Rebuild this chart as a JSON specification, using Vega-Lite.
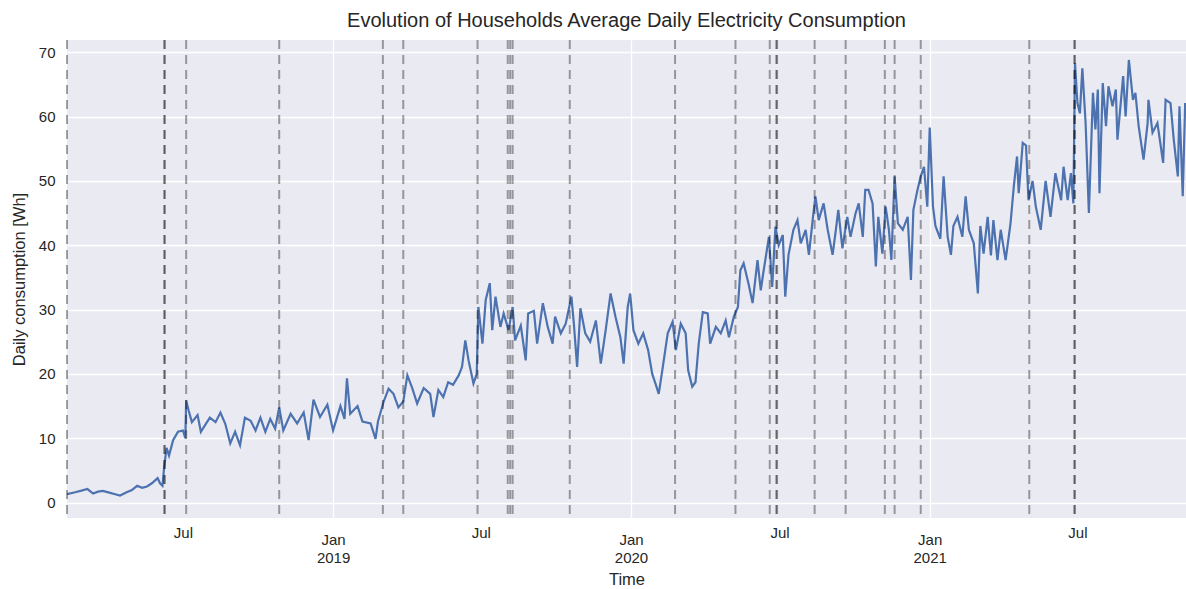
{
  "$schema": "https://vega.github.io/schema/vega-lite/v6.json",
  "width": 1119,
  "height": 478,
  "autosize": {"type": "none"},
  "padding": {"left": 67, "top": 40, "right": 0, "bottom": 71},
  "background": "white",
  "config": {
    "view": {"fill": "#EAEAF2", "stroke": null},
    "font": "Liberation Sans",
    "axis": {
      "domain": false,
      "ticks": false,
      "labelFont": "Liberation Sans",
      "labelFontSize": 15,
      "labelColor": "#262626",
      "titleFont": "Liberation Sans",
      "titleFontSize": 16.5,
      "titleFontWeight": "normal",
      "titleColor": "#262626",
      "gridColor": "white",
      "gridWidth": 1.3,
      "gridOpacity": 1
    }
  },
  "title": {
    "text": "Evolution of Households Average Daily Electricity Consumption",
    "font": "Liberation Sans",
    "fontSize": 20,
    "fontWeight": "normal",
    "color": "#262626",
    "anchor": "middle",
    "offset": 8
  },
  "datasets": {
    "consumption": [
      {"date": "2018-02-09", "wh": 1.3}, {"date": "2018-02-19", "wh": 1.6}, {"date": "2018-02-28", "wh": 1.9},
      {"date": "2018-03-06", "wh": 2.1}, {"date": "2018-03-13", "wh": 1.4}, {"date": "2018-03-19", "wh": 1.7},
      {"date": "2018-03-25", "wh": 1.8}, {"date": "2018-04-03", "wh": 1.5}, {"date": "2018-04-09", "wh": 1.3},
      {"date": "2018-04-15", "wh": 1.1}, {"date": "2018-04-23", "wh": 1.6}, {"date": "2018-04-29", "wh": 1.9},
      {"date": "2018-05-06", "wh": 2.6}, {"date": "2018-05-12", "wh": 2.3}, {"date": "2018-05-18", "wh": 2.5},
      {"date": "2018-05-24", "wh": 3.0}, {"date": "2018-05-31", "wh": 3.8}, {"date": "2018-06-03", "wh": 3.0},
      {"date": "2018-06-06", "wh": 2.6}, {"date": "2018-06-08", "wh": 5.5}, {"date": "2018-06-11", "wh": 8.5},
      {"date": "2018-06-14", "wh": 7.3}, {"date": "2018-06-19", "wh": 9.7}, {"date": "2018-06-25", "wh": 11.0},
      {"date": "2018-07-01", "wh": 11.2}, {"date": "2018-07-04", "wh": 10.0}, {"date": "2018-07-05", "wh": 15.9},
      {"date": "2018-07-08", "wh": 14.3}, {"date": "2018-07-12", "wh": 12.5}, {"date": "2018-07-19", "wh": 13.6},
      {"date": "2018-07-23", "wh": 11.0}, {"date": "2018-07-28", "wh": 12.0}, {"date": "2018-08-03", "wh": 13.2},
      {"date": "2018-08-10", "wh": 12.5}, {"date": "2018-08-16", "wh": 14.0}, {"date": "2018-08-22", "wh": 12.2},
      {"date": "2018-08-28", "wh": 9.2}, {"date": "2018-09-03", "wh": 11.0}, {"date": "2018-09-09", "wh": 8.9},
      {"date": "2018-09-15", "wh": 13.2}, {"date": "2018-09-22", "wh": 12.7}, {"date": "2018-09-28", "wh": 11.2},
      {"date": "2018-10-04", "wh": 13.2}, {"date": "2018-10-10", "wh": 11.0}, {"date": "2018-10-16", "wh": 13.0},
      {"date": "2018-10-22", "wh": 11.5}, {"date": "2018-10-27", "wh": 14.8}, {"date": "2018-11-01", "wh": 11.2},
      {"date": "2018-11-10", "wh": 13.8}, {"date": "2018-11-18", "wh": 12.3}, {"date": "2018-11-26", "wh": 14.0},
      {"date": "2018-12-02", "wh": 9.7}, {"date": "2018-12-08", "wh": 16.0}, {"date": "2018-12-16", "wh": 13.3},
      {"date": "2018-12-25", "wh": 15.2}, {"date": "2019-01-01", "wh": 11.2}, {"date": "2019-01-10", "wh": 15.0},
      {"date": "2019-01-15", "wh": 13.0}, {"date": "2019-01-18", "wh": 19.3}, {"date": "2019-01-22", "wh": 13.8},
      {"date": "2019-01-31", "wh": 15.0}, {"date": "2019-02-06", "wh": 12.6}, {"date": "2019-02-16", "wh": 12.3},
      {"date": "2019-02-22", "wh": 9.9}, {"date": "2019-02-25", "wh": 12.6}, {"date": "2019-03-04", "wh": 15.7},
      {"date": "2019-03-10", "wh": 17.7}, {"date": "2019-03-16", "wh": 16.9}, {"date": "2019-03-22", "wh": 14.8},
      {"date": "2019-03-28", "wh": 15.7}, {"date": "2019-04-02", "wh": 19.8}, {"date": "2019-04-08", "wh": 17.8},
      {"date": "2019-04-14", "wh": 15.4}, {"date": "2019-04-22", "wh": 17.8}, {"date": "2019-04-30", "wh": 16.9},
      {"date": "2019-05-04", "wh": 13.3}, {"date": "2019-05-10", "wh": 17.5}, {"date": "2019-05-16", "wh": 16.4},
      {"date": "2019-05-22", "wh": 18.7}, {"date": "2019-05-28", "wh": 18.3}, {"date": "2019-06-04", "wh": 19.8},
      {"date": "2019-06-08", "wh": 21.1}, {"date": "2019-06-12", "wh": 25.2}, {"date": "2019-06-16", "wh": 22.1},
      {"date": "2019-06-22", "wh": 18.5}, {"date": "2019-06-26", "wh": 20.0}, {"date": "2019-06-28", "wh": 30.4},
      {"date": "2019-07-03", "wh": 24.7}, {"date": "2019-07-07", "wh": 31.5}, {"date": "2019-07-12", "wh": 34.1},
      {"date": "2019-07-15", "wh": 26.8}, {"date": "2019-07-19", "wh": 32.0}, {"date": "2019-07-25", "wh": 27.3},
      {"date": "2019-07-29", "wh": 29.4}, {"date": "2019-08-04", "wh": 26.8}, {"date": "2019-08-09", "wh": 30.4},
      {"date": "2019-08-12", "wh": 25.2}, {"date": "2019-08-19", "wh": 27.5}, {"date": "2019-08-25", "wh": 22.1},
      {"date": "2019-08-28", "wh": 29.4}, {"date": "2019-09-04", "wh": 29.8}, {"date": "2019-09-08", "wh": 24.7},
      {"date": "2019-09-15", "wh": 31.0}, {"date": "2019-09-21", "wh": 27.3}, {"date": "2019-09-27", "wh": 24.7},
      {"date": "2019-09-30", "wh": 28.9}, {"date": "2019-10-07", "wh": 26.3}, {"date": "2019-10-13", "wh": 27.8},
      {"date": "2019-10-20", "wh": 32.0}, {"date": "2019-10-23", "wh": 27.8}, {"date": "2019-10-27", "wh": 21.1},
      {"date": "2019-10-31", "wh": 30.2}, {"date": "2019-11-06", "wh": 26.3}, {"date": "2019-11-12", "wh": 25.0},
      {"date": "2019-11-19", "wh": 28.3}, {"date": "2019-11-25", "wh": 21.6}, {"date": "2019-12-01", "wh": 26.8},
      {"date": "2019-12-07", "wh": 32.5}, {"date": "2019-12-13", "wh": 28.9}, {"date": "2019-12-19", "wh": 25.7},
      {"date": "2019-12-23", "wh": 21.6}, {"date": "2019-12-28", "wh": 30.4}, {"date": "2019-12-31", "wh": 32.5},
      {"date": "2020-01-04", "wh": 26.8}, {"date": "2020-01-10", "wh": 24.7}, {"date": "2020-01-16", "wh": 26.3},
      {"date": "2020-01-22", "wh": 23.7}, {"date": "2020-01-27", "wh": 20.0}, {"date": "2020-01-31", "wh": 18.5},
      {"date": "2020-02-04", "wh": 16.9}, {"date": "2020-02-09", "wh": 21.1}, {"date": "2020-02-15", "wh": 26.3},
      {"date": "2020-02-21", "wh": 28.1}, {"date": "2020-02-25", "wh": 23.7}, {"date": "2020-03-02", "wh": 27.8},
      {"date": "2020-03-08", "wh": 26.3}, {"date": "2020-03-11", "wh": 20.6}, {"date": "2020-03-16", "wh": 18.0},
      {"date": "2020-03-20", "wh": 18.7}, {"date": "2020-03-24", "wh": 24.7}, {"date": "2020-03-29", "wh": 29.6},
      {"date": "2020-04-04", "wh": 29.4}, {"date": "2020-04-07", "wh": 24.7}, {"date": "2020-04-14", "wh": 27.3},
      {"date": "2020-04-20", "wh": 26.3}, {"date": "2020-04-26", "wh": 28.3}, {"date": "2020-04-30", "wh": 25.7},
      {"date": "2020-05-06", "wh": 28.9}, {"date": "2020-05-11", "wh": 30.4}, {"date": "2020-05-14", "wh": 36.1},
      {"date": "2020-05-18", "wh": 37.2}, {"date": "2020-05-24", "wh": 34.0}, {"date": "2020-05-29", "wh": 31.0},
      {"date": "2020-06-04", "wh": 37.7}, {"date": "2020-06-08", "wh": 33.0}, {"date": "2020-06-11", "wh": 35.6},
      {"date": "2020-06-18", "wh": 41.3}, {"date": "2020-06-22", "wh": 33.5}, {"date": "2020-06-26", "wh": 42.9},
      {"date": "2020-06-30", "wh": 40.0}, {"date": "2020-07-05", "wh": 41.6}, {"date": "2020-07-08", "wh": 32.0},
      {"date": "2020-07-12", "wh": 38.5}, {"date": "2020-07-18", "wh": 42.4}, {"date": "2020-07-23", "wh": 43.9},
      {"date": "2020-07-27", "wh": 40.3}, {"date": "2020-08-02", "wh": 42.4}, {"date": "2020-08-06", "wh": 38.5},
      {"date": "2020-08-11", "wh": 44.4}, {"date": "2020-08-14", "wh": 47.6}, {"date": "2020-08-18", "wh": 43.9},
      {"date": "2020-08-24", "wh": 46.5}, {"date": "2020-08-29", "wh": 42.4}, {"date": "2020-09-04", "wh": 38.5},
      {"date": "2020-09-08", "wh": 42.4}, {"date": "2020-09-11", "wh": 45.5}, {"date": "2020-09-16", "wh": 39.5},
      {"date": "2020-09-22", "wh": 44.4}, {"date": "2020-09-26", "wh": 41.3}, {"date": "2020-10-02", "wh": 44.9},
      {"date": "2020-10-06", "wh": 46.5}, {"date": "2020-10-11", "wh": 41.3}, {"date": "2020-10-14", "wh": 48.6},
      {"date": "2020-10-18", "wh": 48.6}, {"date": "2020-10-23", "wh": 46.5}, {"date": "2020-10-27", "wh": 36.7},
      {"date": "2020-10-30", "wh": 44.4}, {"date": "2020-11-04", "wh": 38.7}, {"date": "2020-11-08", "wh": 46.0},
      {"date": "2020-11-12", "wh": 42.4}, {"date": "2020-11-15", "wh": 37.7}, {"date": "2020-11-19", "wh": 50.7},
      {"date": "2020-11-23", "wh": 43.4}, {"date": "2020-11-29", "wh": 42.4}, {"date": "2020-12-05", "wh": 44.4},
      {"date": "2020-12-09", "wh": 34.6}, {"date": "2020-12-12", "wh": 45.5}, {"date": "2020-12-17", "wh": 48.6},
      {"date": "2020-12-21", "wh": 50.7}, {"date": "2020-12-25", "wh": 52.2}, {"date": "2020-12-29", "wh": 46.0},
      {"date": "2021-01-01", "wh": 58.3}, {"date": "2021-01-05", "wh": 46.0}, {"date": "2021-01-08", "wh": 43.0},
      {"date": "2021-01-14", "wh": 41.0}, {"date": "2021-01-18", "wh": 50.7}, {"date": "2021-01-23", "wh": 41.3},
      {"date": "2021-01-27", "wh": 38.5}, {"date": "2021-01-30", "wh": 43.0}, {"date": "2021-02-04", "wh": 44.4},
      {"date": "2021-02-10", "wh": 41.3}, {"date": "2021-02-14", "wh": 47.6}, {"date": "2021-02-18", "wh": 42.4},
      {"date": "2021-02-24", "wh": 40.3}, {"date": "2021-03-01", "wh": 32.5}, {"date": "2021-03-04", "wh": 43.0},
      {"date": "2021-03-08", "wh": 38.7}, {"date": "2021-03-13", "wh": 44.4}, {"date": "2021-03-17", "wh": 38.4},
      {"date": "2021-03-20", "wh": 43.9}, {"date": "2021-03-25", "wh": 37.7}, {"date": "2021-03-29", "wh": 42.4},
      {"date": "2021-04-04", "wh": 37.7}, {"date": "2021-04-10", "wh": 43.4}, {"date": "2021-04-14", "wh": 49.1},
      {"date": "2021-04-18", "wh": 53.8}, {"date": "2021-04-20", "wh": 48.1}, {"date": "2021-04-25", "wh": 55.9},
      {"date": "2021-04-29", "wh": 55.5}, {"date": "2021-05-02", "wh": 47.0}, {"date": "2021-05-07", "wh": 50.0},
      {"date": "2021-05-11", "wh": 46.0}, {"date": "2021-05-17", "wh": 42.4}, {"date": "2021-05-23", "wh": 50.0},
      {"date": "2021-05-29", "wh": 44.4}, {"date": "2021-06-04", "wh": 51.2}, {"date": "2021-06-11", "wh": 47.0},
      {"date": "2021-06-14", "wh": 52.2}, {"date": "2021-06-19", "wh": 47.0}, {"date": "2021-06-23", "wh": 51.2},
      {"date": "2021-06-26", "wh": 46.5}, {"date": "2021-06-28", "wh": 68.3}, {"date": "2021-07-01", "wh": 62.1},
      {"date": "2021-07-04", "wh": 60.5}, {"date": "2021-07-07", "wh": 67.5}, {"date": "2021-07-11", "wh": 59.0},
      {"date": "2021-07-15", "wh": 45.0}, {"date": "2021-07-20", "wh": 63.7}, {"date": "2021-07-23", "wh": 58.0},
      {"date": "2021-07-26", "wh": 64.2}, {"date": "2021-07-28", "wh": 48.1}, {"date": "2021-08-01", "wh": 65.2},
      {"date": "2021-08-05", "wh": 58.5}, {"date": "2021-08-08", "wh": 64.7}, {"date": "2021-08-13", "wh": 61.6},
      {"date": "2021-08-17", "wh": 64.2}, {"date": "2021-08-19", "wh": 56.4}, {"date": "2021-08-26", "wh": 66.3},
      {"date": "2021-08-29", "wh": 60.0}, {"date": "2021-09-02", "wh": 68.8}, {"date": "2021-09-07", "wh": 62.6},
      {"date": "2021-09-10", "wh": 63.7}, {"date": "2021-09-14", "wh": 58.5}, {"date": "2021-09-20", "wh": 53.3},
      {"date": "2021-09-25", "wh": 59.0}, {"date": "2021-09-26", "wh": 62.6}, {"date": "2021-10-01", "wh": 57.5},
      {"date": "2021-10-07", "wh": 59.0}, {"date": "2021-10-14", "wh": 52.8}, {"date": "2021-10-17", "wh": 62.6},
      {"date": "2021-10-23", "wh": 62.1}, {"date": "2021-10-27", "wh": 56.4}, {"date": "2021-11-01", "wh": 50.7},
      {"date": "2021-11-03", "wh": 61.6}, {"date": "2021-11-07", "wh": 47.6}, {"date": "2021-11-10", "wh": 62.1}
    ],
    "events": [
      {"date": "2018-02-09"}, {"date": "2018-06-08"}, {"date": "2018-06-09"}, {"date": "2018-07-05"},
      {"date": "2018-10-27"}, {"date": "2019-03-03"}, {"date": "2019-03-28"}, {"date": "2019-06-27"},
      {"date": "2019-08-03"}, {"date": "2019-08-06"}, {"date": "2019-08-09"}, {"date": "2019-10-18"},
      {"date": "2020-02-24"}, {"date": "2020-05-08"}, {"date": "2020-06-19"}, {"date": "2020-06-27"},
      {"date": "2020-06-28"}, {"date": "2020-08-13"}, {"date": "2020-09-20"}, {"date": "2020-11-07"},
      {"date": "2020-11-19"}, {"date": "2020-12-21"}, {"date": "2021-05-03"}, {"date": "2021-06-27"},
      {"date": "2021-06-28"}
    ]
  },
  "layer": [
    {
      "data": {"name": "consumption"},
      "mark": {"type": "line", "color": "#4C72B0", "strokeWidth": 2.2, "clip": true},
      "encoding": {
        "x": {
          "field": "date",
          "type": "temporal",
          "scale": {
            "type": "utc",
            "domain": [
              {"year": 2018, "month": 2, "date": 9, "utc": true},
              {"year": 2021, "month": 11, "date": 11, "utc": true}
            ]
          },
          "axis": {
            "title": "Time",
            "titlePadding": 6,
            "values": [
              {"year": 2018, "month": 7, "date": 1, "utc": true},
              {"year": 2019, "month": 1, "date": 1, "utc": true},
              {"year": 2019, "month": 7, "date": 1, "utc": true},
              {"year": 2020, "month": 1, "date": 1, "utc": true},
              {"year": 2020, "month": 7, "date": 1, "utc": true},
              {"year": 2021, "month": 1, "date": 1, "utc": true},
              {"year": 2021, "month": 7, "date": 1, "utc": true}
            ],
            "labelExpr": "utcFormat(datum.value, '%m') == '01' ? [utcFormat(datum.value, '%b'), utcFormat(datum.value, '%Y')] : utcFormat(datum.value, '%b')",
            "labelBaseline": "top",
            "labelLineHeight": 18,
            "labelPadding": {"condition": {"test": "utcFormat(datum.value, '%m') == '01'", "value": 14}, "value": 7},
            "gridColor": {"condition": {"test": "utcFormat(datum.value, '%m') == '07'", "value": "transparent"}, "value": "white"},
            "labelFlush": false,
            "labelOverlap": false
          }
        },
        "y": {
          "field": "wh",
          "type": "quantitative",
          "scale": {"domain": [-2.4, 71.9], "nice": false, "zero": false},
          "axis": {
            "title": "Daily consumption [Wh]",
            "values": [0, 10, 20, 30, 40, 50, 60, 70],
            "labelPadding": 12,
            "titlePadding": 11
          }
        }
      }
    },
    {
      "data": {"name": "events"},
      "mark": {"type": "rule", "color": "black", "opacity": 0.36, "strokeWidth": 2, "strokeDash": [9, 6]},
      "encoding": {
        "x": {"field": "date", "type": "temporal"}
      }
    }
  ]
}
